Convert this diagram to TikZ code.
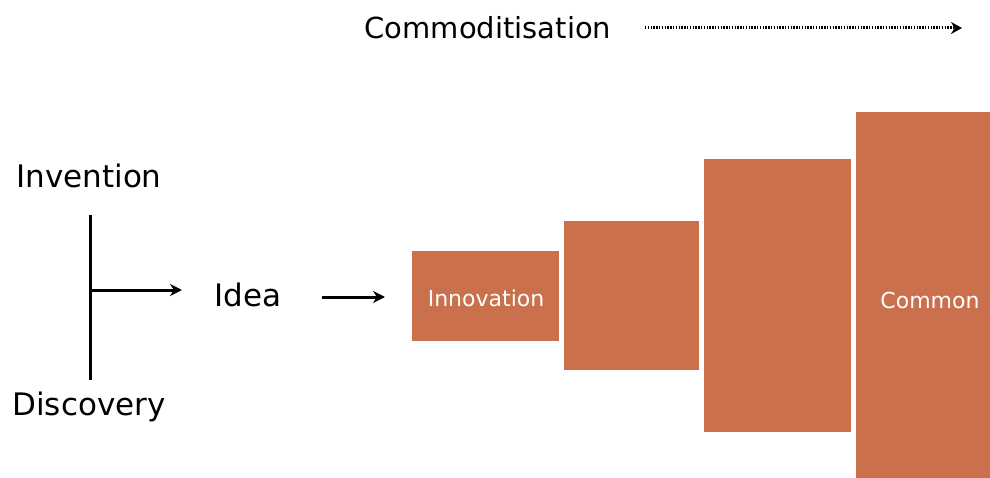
\documentclass[tikz,border=0pt]{standalone}
\usepackage{fontspec}
\setmainfont{DejaVu Sans}
\usetikzlibrary{arrows.meta}
\definecolor{terra}{RGB}{202,112,76}
\tikzset{
  lbl/.style={inner sep=0pt, font=\fontsize{31}{36}\selectfont, text=black},
  boxlbl/.style={inner sep=0pt, font=\fontsize{22}{26}\selectfont, text=white},
  blk/.style={fill=terra, draw=none},
  arr/.style={line width=3pt, -{Stealth[length=12pt,width=12pt]}},
  vline/.style={line width=3pt},
  dotarr/.style={line width=3pt, dash pattern=on 1.4pt off 1.4pt, -{Stealth[length=11pt,width=12pt]}}
}
\begin{document}
\begin{tikzpicture}[x=1pt,y=-1pt]
\useasboundingbox (0,0) rectangle (990,478);
\fill[white] (0,0) rectangle (990,478);
% blocks
\node[blk, anchor=north west, minimum width=147pt, minimum height=90pt, inner sep=0pt] (b1) at (412,251) {};
\node[blk, anchor=north west, minimum width=135pt, minimum height=149pt, inner sep=0pt] (b2) at (564,221) {};
\node[blk, anchor=north west, minimum width=147pt, minimum height=273pt, inner sep=0pt] (b3) at (704,159) {};
\node[blk, anchor=north west, minimum width=134pt, minimum height=366pt, inner sep=0pt] (b4) at (856,112) {};
\node[boxlbl] (innov) at (486,298) {Innovation};
\node[boxlbl] (common) at (930,300) {Common};
% texts
\node[lbl, font=\fontsize{29}{34}\selectfont] (comm) at (488,28) {Commoditisation};
\coordinate (cs) at (645,28);
\coordinate (ce) at (962,28);
\draw[dotarr] (cs) -- (ce);
\node[lbl] (inv) at (89,176) {Invention};
\node[lbl] (disc) at (89,407) {Discovery};
\node[lbl] (idea) at (248,295) {Idea};
\coordinate (vt) at (90,215);
\coordinate (vb) at (90,380);
\coordinate (vj) at (90,290);
\coordinate (ie) at (182,290);
\draw[vline] (vt) -- (vb);
\draw[arr] (vj) -- (ie);
\coordinate (ia) at (322,297);
\coordinate (ib) at (385,297);
\draw[arr] (ia) -- (ib);
\end{tikzpicture}
\end{document}
